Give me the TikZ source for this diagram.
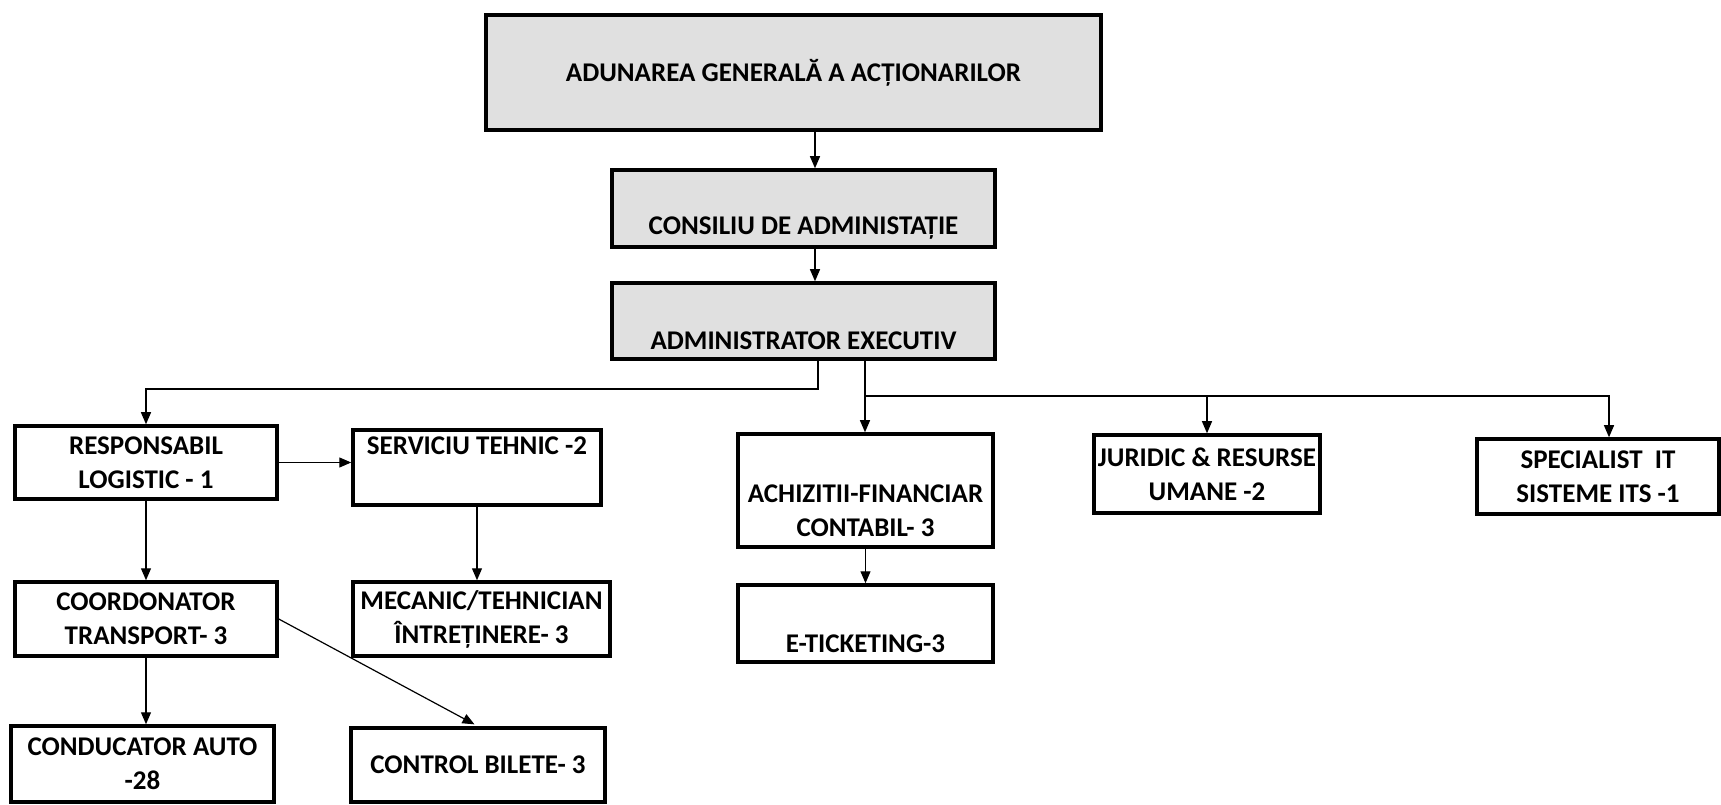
\documentclass[tikz,border=0pt]{standalone}
\usepackage{fontspec}
\setmainfont{Carlito}
\usetikzlibrary{arrows.meta}
\tikzstyle{box} = [draw,line width=3.5pt,rectangle,inner sep=0,align=center,font=\bfseries\fontsize{27}{34}\selectfont]
\tikzstyle{shaded} = [box,fill=black!12]
\tikzstyle{link} = [line width=1.2pt,-{Triangle[length=12pt,width=10pt]}]
\def \blank {\strut}

\begin{document}
\begin{tikzpicture}[x=1pt,y=1pt]
      \useasboundingbox (0,0) rectangle (1721,804);
      % conducere
      \node[shaded,line width=4.5pt,minimum width=615pt,minimum height=115pt] (aga) at (793.5,731.5) {ADUNAREA GENERALĂ A ACȚIONARILOR};
      \node[shaded,minimum width=383pt,minimum height=77pt] (ca) at (803.5,595.5) {\blank\\CONSILIU DE ADMINISTAȚIE};
      \node[shaded,minimum width=383pt,minimum height=76pt] (ae) at (803.5,483) {\blank\\ADMINISTRATOR EXECUTIV};
      % compartimente
      \node[box,minimum width=262pt,minimum height=73pt] (resp) at (146,341.5) {RESPONSABIL\\LOGISTIC - 1};
      \node[box,minimum width=248pt,minimum height=75pt] (serv) at (477,336.5) {SERVICIU TEHNIC -2\\\blank};
      \node[box,minimum width=262pt,minimum height=74pt] (coord) at (146,185) {COORDONATOR\\TRANSPORT- 3};
      \node[box,minimum width=257pt,minimum height=74pt] (mec) at (481.5,185) {MECANIC/TEHNICIAN\\ÎNTREȚINERE- 3};
      \node[box,minimum width=263pt,minimum height=76pt] (cond) at (142.5,40) {CONDUCATOR AUTO\\-28};
      \node[box,minimum width=254pt,minimum height=74pt] (ctrl) at (478,39) {CONTROL BILETE- 3};
      \node[box,minimum width=255pt,minimum height=113pt] (ach) at (865.5,313.5) {\blank\\ACHIZITII-FINANCIAR\\CONTABIL- 3};
      \node[box,minimum width=255pt,minimum height=77pt] (eti) at (865.5,180.5) {\blank\\E-TICKETING-3};
      \node[box,minimum width=226pt,minimum height=78pt] (jur) at (1207,330) {JURIDIC \& RESURSE\\UMANE -2};
      \node[box,minimum width=242pt,minimum height=75pt] (spec) at (1598,327.5) {SPECIALIST \ IT\\SISTEME ITS -1};
      % legaturi
      \coordinate (c1) at (815,0);
      \coordinate (jl) at (818,415);
      \coordinate (jr) at (865,408);
      \coordinate (js) at (1609,0);
      \draw[link] (aga.south -| c1) -- (ca.north -| c1);
      \draw[link] (ca.south -| c1) -- (ae.north -| c1);
      \draw[link] (ae.south -| jl) -- (jl) -| (resp.north);
      \draw[link] (ae.south -| jr) -- (ach.north -| jr);
      \draw[link] (jr) -| (spec.north -| js);
      \draw[link] (jr -| jur.north) -- (jur.north);
      \draw[link] (resp.east) -- (resp.east -| serv.west);
      \draw[link] (resp.south) -- (coord.north);
      \draw[link] (serv.south) -- (serv.south |- mec.north);
      \draw[link] (coord.south) -- (coord.south |- cond.north);
      \draw[link,shorten >=4pt] (coord.east) -- (ctrl.north);
      \draw[link] (ach.south) -- (eti.north);
    \end{tikzpicture}
\end{document}
